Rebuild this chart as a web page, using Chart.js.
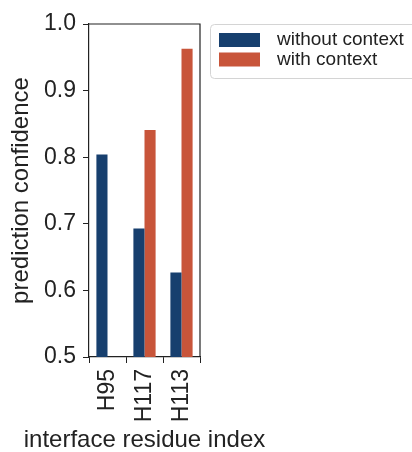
<!DOCTYPE html>
<html lang="en">

<head>
    <meta charset="UTF-8">
    <title>Prediction confidence</title>
    <script src="https://cdn.jsdelivr.net/npm/chart.js"></script>
    <style>
        html, body { margin: 0; padding: 0; background: #fff; }
        #wrap { width: 412px; height: 452px; }
    </style>
</head>

<body>
    <div id="wrap"><canvas id="confChart" width="412" height="452"></canvas></div>

    <script>
        // data
        const residues = ['H95', 'H117', 'H113'];
        const withoutContext = [0.804, 0.693, 0.627];
        const withContext = [null, 0.841, 0.963];
        const yTicks = [0.5, 0.6, 0.7, 0.8, 0.9, 1.0];

        const blue = '#173f6e';
        const orange = '#c8553a';
        const font = "'Liberation Sans', Arial, sans-serif";
        const xTitle = 'interface residue index';

        // top/right spines, x title (wider than the plot) and the boxed legend
        const extras = {
            id: 'extras',
            afterDraw(chart) {
                const { ctx, chartArea: a } = chart;
                ctx.save();
                ctx.strokeStyle = '#222';
                ctx.lineWidth = 1.2;
                ctx.beginPath();
                ctx.moveTo(a.left, a.top);
                ctx.lineTo(a.right, a.top);
                ctx.lineTo(a.right, a.bottom);
                ctx.stroke();

                ctx.fillStyle = '#222';
                ctx.font = '24px ' + font;
                ctx.textAlign = 'center';
                ctx.textBaseline = 'alphabetic';
                ctx.fillText(xTitle, (a.left + a.right) / 2, 447);

                // legend box
                const lx = 210.5, ly = 24.5;
                ctx.strokeStyle = '#d4d4d4';
                ctx.lineWidth = 1;
                ctx.beginPath();
                ctx.roundRect(lx, ly, 230, 54, 4);
                ctx.fillStyle = '#fff';
                ctx.fill();
                ctx.stroke();

                ctx.font = '19px ' + font;
                ctx.textAlign = 'left';
                ctx.textBaseline = 'middle';
                chart.data.datasets.forEach((ds, i) => {
                    const y = 33 + i * 19.5;
                    ctx.fillStyle = ds.backgroundColor;
                    ctx.fillRect(219, y, 41, 14);
                    ctx.fillStyle = '#222';
                    ctx.fillText(ds.label, 277, y + 7);
                });
                ctx.restore();
            }
        };

        new Chart(document.getElementById('confChart'), {
            type: 'bar',
            data: {
                labels: residues,
                datasets: [{
                    label: 'without context',
                    data: withoutContext,
                    backgroundColor: blue
                }, {
                    label: 'with context',
                    data: withContext,
                    backgroundColor: orange
                }]
            },
            options: {
                responsive: false,
                animation: false,
                layout: { padding: { top: 24, right: 212, left: 0, bottom: 0 } },
                datasets: { bar: { categoryPercentage: 0.6, barPercentage: 1.0 } },
                plugins: { legend: { display: false }, tooltip: { enabled: false } },
                scales: {
                    x: {
                        offset: true,
                        grid: { display: true, drawOnChartArea: false, drawTicks: true, tickLength: 6, color: '#222' },
                        border: { color: '#222', width: 1.2 },
                        ticks: { color: '#222', font: { family: font, size: 23 }, minRotation: 90, maxRotation: 90, padding: 6 },
                        afterFit(scale) { scale.height = 95; }
                    },
                    y: {
                        min: 0.5,
                        max: 1.0,
                        afterBuildTicks(scale) { scale.ticks = yTicks.map(v => ({ value: v })); },
                        grid: { display: true, drawOnChartArea: false, drawTicks: true, tickLength: 6, color: '#222' },
                        border: { color: '#222', width: 1.2 },
                        ticks: { color: '#222', font: { family: font, size: 23 }, padding: 7, callback: v => v.toFixed(1) },
                        title: { display: true, text: 'prediction confidence', color: '#222', font: { family: font, size: 24 }, padding: { top: 7, bottom: 0 } },
                        afterFit(scale) { scale.width = 89; }
                    }
                }
            },
            plugins: [extras]
        });
    </script>
</body>

</html>
